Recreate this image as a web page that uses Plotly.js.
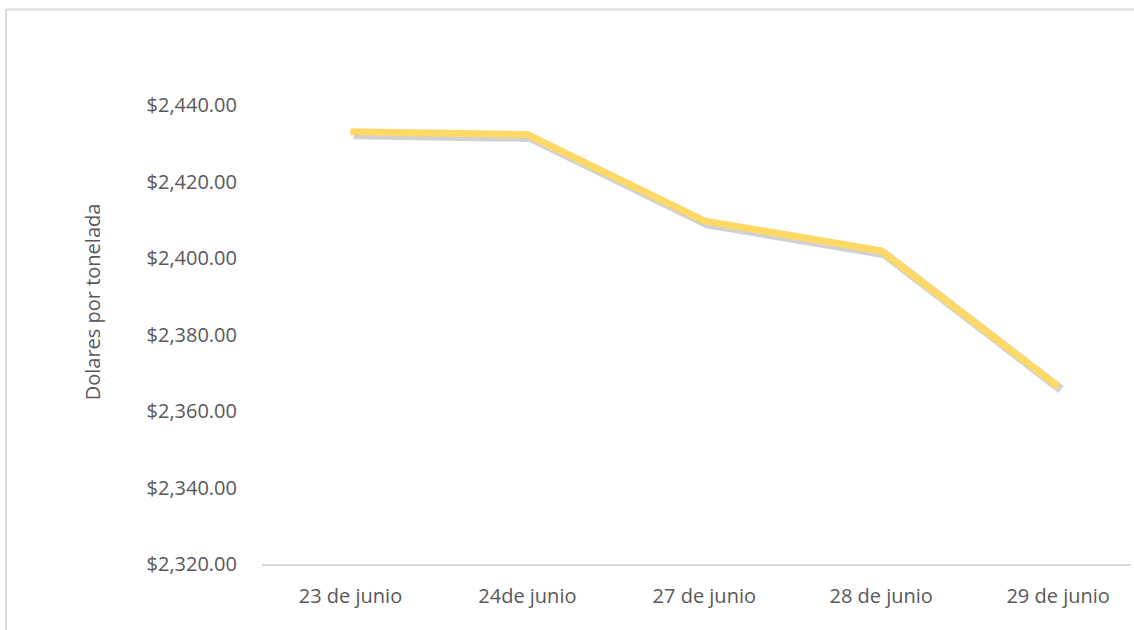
<!DOCTYPE html>
<html>
<head>
<meta charset="utf-8">
<script src="https://cdn.plot.ly/plotly-3.0.1.min.js"></script>
<style>
  html, body { margin: 0; padding: 0; background: #ffffff; }
  #chart { width: 1134px; height: 630px; }
</style>
</head>
<body>
<div id="chart"></div>
<script>
// Data
const categories = ["23 de junio", "24de junio", "27 de junio", "28 de junio", "29 de junio"];
const prices = [2433.0, 2432.3, 2409.7, 2401.9, 2366.4];
const yTicks = [2320, 2340, 2360, 2380, 2400, 2420, 2440];
const yAxisTitle = "Dolares por tonelada";

const W = 1134, H = 630;
const mL = 262, mR = 0, mT = 105, mB = 62.5;
const plotW = W - mL - mR, plotH = H - mT - mB;
const sh = 3; // shadow offset in px
const xRange = [-0.5, 4.412];
const yRange = [2320, 2440];
const fontFam = '"Open Sans", "Noto Sans", sans-serif';
const textColor = '#595959';

// shadow (drawn first, underneath) on x/y, main line on x2/y2
const shadow = {
  x: categories, y: prices, type: 'scatter', mode: 'lines',
  xaxis: 'x', yaxis: 'y',
  line: { color: 'rgba(0,0,0,0.18)', width: 9 },
  hoverinfo: 'skip', showlegend: false
};
const main = {
  x: categories, y: prices, type: 'scatter', mode: 'lines',
  xaxis: 'x2', yaxis: 'y2',
  name: 'Precio',
  line: { color: '#FFD966', width: 7 },
  showlegend: false
};

const layout = {
  width: W, height: H,
  margin: { l: mL, r: mR, t: mT, b: mB, pad: 0 },
  paper_bgcolor: '#ffffff', plot_bgcolor: 'rgba(0,0,0,0)',
  font: { family: fontFam, color: textColor, size: 20 },
  showlegend: false,
  xaxis: {
    type: 'category', domain: [sh / plotW, 1], range: xRange,
    visible: false, anchor: 'y'
  },
  yaxis: {
    domain: [0, 1 - sh / plotH], range: yRange,
    visible: false, anchor: 'x'
  },
  xaxis2: {
    type: 'category', domain: [0, 1 - sh / plotW], range: xRange,
    showgrid: false, zeroline: false,
    showline: true, linecolor: '#d9d9d9', linewidth: 2,
    ticks: '', ticklabelstandoff: 13,
    tickfont: { family: fontFam, size: 20, color: textColor },
    anchor: 'y2'
  },
  yaxis2: {
    domain: [sh / plotH, 1], range: yRange,
    tickmode: 'array', tickvals: yTicks,
    tickformat: '$,.2f',
    showgrid: false, zeroline: false, showline: false,
    ticks: '', ticklabelstandoff: 24,
    tickfont: { family: fontFam, size: 20, color: textColor },
    anchor: 'x2'
  },
  annotations: [{
    text: yAxisTitle, textangle: -90,
    xref: 'paper', yref: 'paper',
    x: (92 - mL) / plotW, y: (H - mB - 302.5) / plotH,
    xanchor: 'center', yanchor: 'middle', showarrow: false,
    font: { family: fontFam, size: 20, color: textColor }
  }],
  shapes: [
    { type: 'line', xref: 'paper', yref: 'paper', layer: 'below',
      x0: (6 - mL) / plotW, x1: (6 - mL) / plotW,
      y0: (H - mB - 9) / plotH, y1: (H - mB - 632) / plotH,
      line: { color: '#d9d9d9', width: 2 } },
    { type: 'line', xref: 'paper', yref: 'paper', layer: 'below',
      x0: (6 - mL) / plotW, x1: (1136 - mL) / plotW,
      y0: (H - mB - 9.5) / plotH, y1: (H - mB - 9.5) / plotH,
      line: { color: '#d9d9d9', width: 2 } }
  ]
};

Plotly.newPlot('chart', [shadow, main], layout, { displayModeBar: false, staticPlot: true });
</script>
</body>
</html>
